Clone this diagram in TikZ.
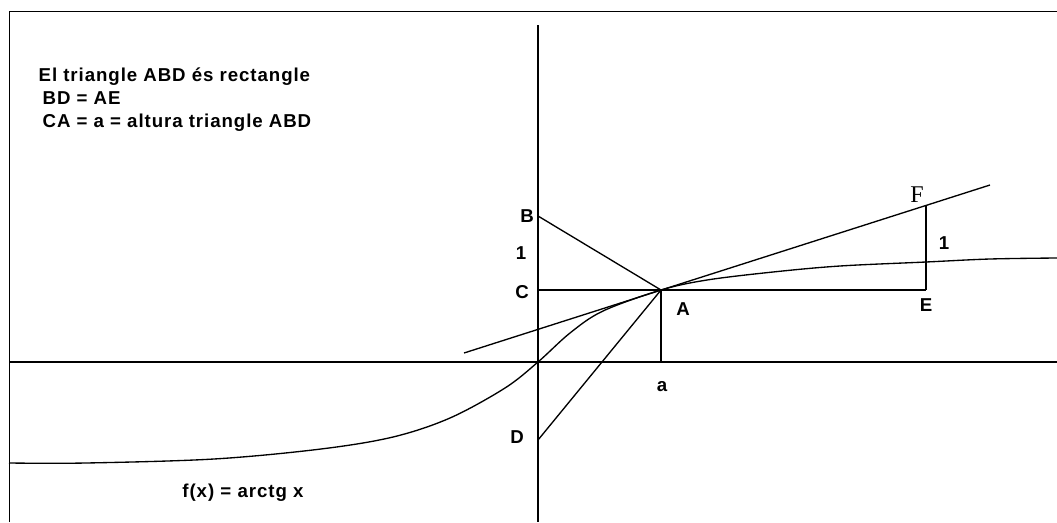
\documentclass[tikz,border=0pt]{standalone}
\usepackage{fontspec}
\setmainfont{Liberation Sans}
\newfontfamily\labfont[LetterSpace=5]{Liberation Sans}
\newfontfamily\serfont{Liberation Serif}
\begin{document}
\begin{tikzpicture}[x=0.75pt,y=-0.75pt,line width=1pt,
  lbl/.style={font=\labfont\fontsize{14}{16}\selectfont\bfseries,inner sep=0pt},
  serlbl/.style={font=\serfont\fontsize{18}{20}\selectfont,inner sep=0pt},
  txt/.style={lbl,anchor=base west},
  axis/.style={line width=1.3pt},
  frame/.style={line width=0.7pt},
  seg/.style={line width=1pt}]
\useasboundingbox (0,0) rectangle (1057,522);
% frame
\draw[frame] (9,522) -- (9,11) -- (1057,11);
% axes
\coordinate (Ytop) at (538,25);
\coordinate (Ybot) at (538,522);
\coordinate (Xl) at (9,362);
\coordinate (Xr) at (1057,362);
\draw[axis] (Ytop) -- (Ybot);
\draw[axis] (Xl) -- (Xr);
% points
\coordinate (O) at (538,362);
\coordinate (A) at (661,290);
\coordinate (B) at (538,216);
\coordinate (C) at (538,290);
\coordinate (D) at (538,440);
\coordinate (E) at (926,290);
\coordinate (F) at (926,206);
\coordinate (Af) at (661,362);
\coordinate (T1) at (464,353);
\coordinate (T2) at (990,185);
% curve f(x) = arctg x
\draw[seg] plot[smooth,tension=0.55] coordinates {(9,463) (86,463) (214,459) (321,449) (393,437) (450,418) (505,388) (538,362) (570,333) (603,311) (661,290) (707,280) (773,272) (840,266) (926,262) (990,259) (1057,258)};
% segments
\draw[seg] (T1) -- (T2);
\draw[seg] (B) -- (A);
\draw[seg] (C) -- (E);
\draw[seg] (A) -- (Af);
\draw[seg] (D) -- (A);
\draw[seg] (E) -- (F);
% labels
\node[lbl] (lB) at (527,216) {B};
\node[lbl] (l1a) at (521,253) {1};
\node[lbl] (lC) at (522,292) {C};
\node[lbl] (lA) at (683,309) {A};
\node[lbl] (la) at (662,387) {a};
\node[lbl] (lD) at (517,437) {D};
\node[lbl] (lE) at (926,305) {E};
\node[serlbl] (lF) at (917,195) {F};
\node[lbl] (l1b) at (944,243) {1};
\node[lbl,anchor=base] (lf) at (243,497) {f(x)\,\,=\,\,arctg\,\,x};
% text block
\node[txt] (t1) at (38,81) {El triangle ABD és rectangle};
\node[txt] (t2) at (42,104) {BD = AE};
\node[txt] (t3) at (42,127) {CA = a = altura triangle ABD};
\end{tikzpicture}
\end{document}
